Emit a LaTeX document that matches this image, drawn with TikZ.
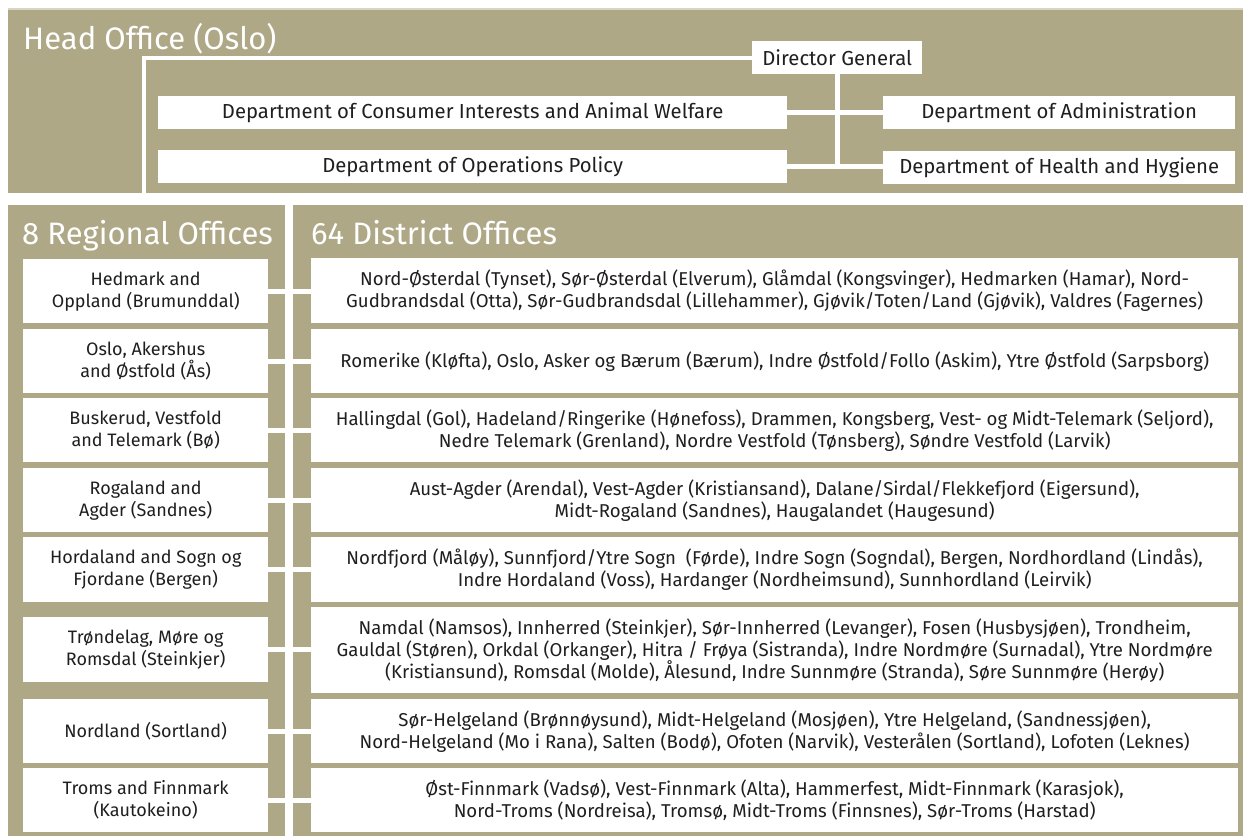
\documentclass[tikz,border=0pt]{standalone}
\usepackage{fontspec}
\setmainfont{Fira Sans}
\definecolor{panelolive}{HTML}{AEA887}
\definecolor{panelrim}{HTML}{D9D5C3}
\definecolor{ink}{HTML}{1F1F1F}
\begin{document}
\begin{tikzpicture}[x=1pt,y=-1pt,
  box/.style={fill=white, draw=none, inner sep=0pt, anchor=north west,
    font=\fontsize{18}{22}\selectfont, text=ink, align=center},
  hqbox/.style={box, font=\fontsize{20.3}{24}\selectfont},
  distbox/.style={box, minimum width=927pt, font=\fontsize{18.6}{22}\selectfont},
  regbox/.style={box, minimum width=245pt},
  link/.style={draw=white, line width=5pt},
  uplink/.style={draw=white, line width=4pt},
  heading/.style={font=\fontsize{31}{36}\selectfont, text=white, anchor=base west, inner sep=0pt}]
\useasboundingbox (0,0) rectangle (1243,836);
% panels
\fill[panelrim] (8,8) rectangle (1243,10);
\fill[panelolive] (8,10) rectangle (1243,193);
\fill[panelolive] (8,205) rectangle (285,836);
\fill[panelolive] (293,205) rectangle (1243,836);
% headings
\node[heading] (hqtitle) at (23,49) {Head Office (Oslo)};
\node[heading] (regtitle) at (22,244) {8 Regional Offices};
\node[heading] (disttitle) at (311,244) {64 District Offices};
% head office
\node[hqbox, minimum width=170pt, minimum height=33pt] (dg) at (752,41) {Director General};
\node[hqbox, minimum width=629pt, minimum height=33pt] (cons) at (158,96) {Department of Consumer Interests and Animal Welfare};
\node[hqbox, minimum width=629pt, minimum height=33pt] (ops) at (158,150) {Department of Operations Policy};
\node[hqbox, minimum width=352pt, minimum height=33pt] (adm) at (883,96) {Department of Administration};
\node[hqbox, minimum width=352pt, minimum height=33pt] (hlth) at (883,151) {Department of Health and Hygiene};
\coordinate (hqdrop) at (143.5,199);
\draw[uplink] (dg.west) -| (hqdrop);
\draw[link] (cons.east) -- (adm.west);
\draw[link] (ops.east) -- (ops.east -| hlth.west);
\draw[link] (dg.south) -- (dg.south |- ops.east);
% regional offices
\node[regbox, minimum height=64pt] (r1) at (23,259) {Hedmark and\\Oppland (Brumunddal)};
\node[regbox, minimum height=64pt] (r2) at (23,329) {Oslo, Akershus\\and Østfold (Ås)};
\node[regbox, minimum height=64pt] (r3) at (23,398) {Buskerud, Vestfold\\and Telemark (Bø)};
\node[regbox, minimum height=64pt] (r4) at (23,468) {Rogaland and\\Agder (Sandnes)};
\node[regbox, minimum height=65pt] (r5) at (23,537) {Hordaland and Sogn og\\Fjordane (Bergen)};
\node[regbox, minimum height=65pt] (r6) at (23,617) {Trøndelag, Møre og\\Romsdal (Steinkjer)};
\node[regbox, minimum height=64pt] (r7) at (23,699) {Nordland (Sortland)};
\node[regbox, minimum height=64pt] (r8) at (23,768) {Troms and Finnmark\\(Kautokeino)};
% district offices
\node[distbox, minimum height=65pt] (d1) at (311,258) {Nord-Østerdal (Tynset), Sør-Østerdal (Elverum), Glåmdal (Kongsvinger), Hedmarken (Hamar), Nord-\\Gudbrandsdal (Otta), Sør-Gudbrandsdal (Lillehammer), Gjøvik/Toten/Land (Gjøvik), Valdres (Fagernes)};
\node[distbox, minimum height=64pt] (d2) at (311,329) {Romerike (Kløfta), Oslo, Asker og Bærum (Bærum), Indre Østfold/Follo (Askim), Ytre Østfold (Sarpsborg)};
\node[distbox, minimum height=64pt] (d3) at (311,398) {Hallingdal (Gol), Hadeland/Ringerike (Hønefoss), Drammen, Kongsberg, Vest- og Midt-Telemark (Seljord),\\Nedre Telemark (Grenland), Nordre Vestfold (Tønsberg), Søndre Vestfold (Larvik)};
\node[distbox, minimum height=64pt] (d4) at (311,468) {Aust-Agder (Arendal), Vest-Agder (Kristiansand), Dalane/Sirdal/Flekkefjord (Eigersund),\\Midt-Rogaland (Sandnes), Haugalandet (Haugesund)};
\node[distbox, minimum height=65pt] (d5) at (311,537) {Nordfjord (Måløy), Sunnfjord/Ytre Sogn~ (Førde), Indre Sogn (Sogndal), Bergen, Nordhordland (Lindås),\\Indre Hordaland (Voss), Hardanger (Nordheimsund), Sunnhordland (Leirvik)};
\node[distbox, minimum height=86pt] (d6) at (311,607) {Namdal (Namsos), Innherred (Steinkjer), Sør-Innherred (Levanger), Fosen (Husbysjøen), Trondheim,\\Gauldal (Støren), Orkdal (Orkanger), Hitra / Frøya (Sistranda), Indre Nordmøre (Surnadal), Ytre Nordmøre\\(Kristiansund), Romsdal (Molde), Ålesund, Indre Sunnmøre (Stranda), Søre Sunnmøre (Herøy)};
\node[distbox, minimum height=64pt] (d7) at (311,699) {Sør-Helgeland (Brønnøysund), Midt-Helgeland (Mosjøen), Ytre Helgeland, (Sandnessjøen),\\Nord-Helgeland (Mo i Rana), Salten (Bodø), Ofoten (Narvik), Vesterålen (Sortland), Lofoten (Leknes)};
\node[distbox, minimum height=64pt] (d8) at (311,768) {Øst-Finnmark (Vadsø), Vest-Finnmark (Alta), Hammerfest, Midt-Finnmark (Karasjok),\\Nord-Troms (Nordreisa), Tromsø, Midt-Troms (Finnsnes), Sør-Troms (Harstad)};
% regional to district links
\foreach \i in {1,...,8} {
  \draw[link] (r\i.east) -- (r\i.east -| d\i.west);
}
\end{tikzpicture}
\end{document}
